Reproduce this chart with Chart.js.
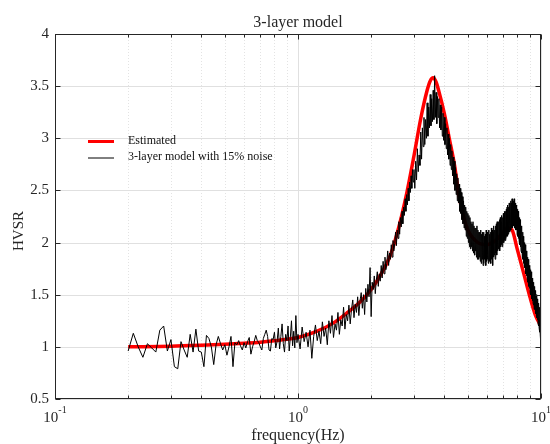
<!DOCTYPE html>
<html>
<head>
<meta charset="utf-8">
<title>3-layer model</title>
<script src="https://cdn.jsdelivr.net/npm/chart.js@4.4.1/dist/chart.umd.min.js"></script>
<style>
  html, body { margin: 0; padding: 0; background: #fff; }
  canvas { display: block; }
</style>
</head>
<body>
<canvas id="c" width="550" height="444"></canvas>
<script>
// HVSR of the 3-layer model with 15% noise, sampled in three frequency bands (Hz)
const noiseLowStart = 0.20, noiseLowStep = 0.01;
const noiseLow = [
  0.96,1.13,1.00,0.90,1.03,0.99,0.95,1.16,1.20,0.96,
  1.07,0.81,0.79,1.05,0.97,0.90,1.12,0.95,1.17,0.96,
  0.95,0.81,1.11,1.08,1.00,0.83,1.02,1.10,1.03,0.97,
  1.02,0.92,1.00,1.10,0.81,1.04,1.02,1.06,1.01,0.97,
  1.04,0.99,1.05,1.09,0.93,1.00,1.05,1.11,1.06,1.04,
  1.00,0.97,1.08,1.12,1.16,1.10,0.97,0.96,1.08,1.07,
  1.14,0.99,1.05,1.18,0.98,1.10,1.22,1.03,0.95,1.12,
  1.06,1.20,0.96,1.09,1.25,1.01,1.15,0.99,1.30,1.04
];
const noiseMidStart = 1.00, noiseMidStep = 0.02;
const noiseMid = [
  1.12,0.98,1.19,1.05,1.14,1.00,1.16,0.89,1.10,1.21,
  1.06,1.15,1.03,1.24,1.10,1.18,1.02,1.25,1.13,1.30,
  1.09,1.22,1.16,1.33,1.12,1.26,1.20,1.38,1.17,1.31,
  1.25,1.40,1.22,1.36,1.45,1.28,1.41,1.33,1.48,1.30,
  1.44,1.52,1.37,1.50,1.31,1.56,1.43,1.60,1.48,1.76,
  1.29,1.62,1.55,1.68,1.51,1.64,1.72,1.58,1.70,1.63,
  1.78,1.66,1.82,1.70,1.86,1.74,1.80,1.92,1.78,1.90,
  1.84,1.98,1.86,2.02,1.92,1.99,2.10,1.97,2.12,2.04,
  2.20,2.08,2.24,2.15,2.30,2.18,2.34,2.26,2.42,2.30,
  2.46,2.36,2.52,2.40,2.58,2.48,2.64,2.52,2.70,2.58
];
const noiseHighStart = 3.00, noiseHighStep = 0.025;
const noiseHigh = [
  2.70,2.52,2.78,2.60,  2.90,2.68,2.84,2.74,  3.06,2.80,3.10,2.92,  3.20,2.94,3.18,3.00,
  3.34,3.02,3.30,3.10,  3.42,3.12,3.38,3.16,  3.46,3.18,3.60,3.20,  3.44,3.14,3.40,3.20,
  3.38,3.10,3.32,3.08,  3.30,3.02,3.24,2.98,
  3.20,2.94,3.14,2.90,  3.10,2.84,3.04,2.80,  3.00,2.74,2.94,2.70,  2.88,2.64,2.82,2.56,
  2.78,2.50,2.72,2.46,  2.66,2.40,2.62,2.38,  2.56,2.30,2.52,2.28,  2.48,2.22,2.44,2.18,
  2.40,2.14,2.36,2.12,  2.34,2.06,2.30,2.04,
  2.28,2.00,2.26,1.96,  2.24,1.94,2.20,1.96,  2.18,1.92,2.20,1.90,  2.16,1.88,2.14,1.92,
  2.14,1.86,2.16,1.84,  2.12,1.84,2.10,1.86,  2.10,1.82,2.12,1.80,  2.08,1.84,2.10,1.78,
  2.10,1.80,2.06,1.84,  2.08,1.78,2.12,1.82,
  2.10,1.84,2.06,1.80,  2.12,1.82,2.08,1.86,  2.10,1.80,2.14,1.84,  2.12,1.78,2.10,1.86,
  2.16,1.88,2.12,1.84,  2.16,1.90,2.18,1.88,  2.20,1.92,2.16,1.94,  2.20,1.94,2.22,1.92,
  2.24,1.96,2.20,1.98,  2.26,1.96,2.24,2.00,
  2.28,2.00,2.26,2.02,  2.30,2.02,2.30,2.04,  2.32,2.06,2.34,2.06,  2.36,2.08,2.34,2.10,
  2.38,2.10,2.38,2.12,  2.40,2.12,2.38,2.14,  2.42,2.14,2.41,2.16,  2.40,2.16,2.42,2.14,
  2.40,2.14,2.38,2.12,  2.36,2.12,2.34,2.08,
  2.32,2.06,2.30,2.04,  2.28,2.02,2.24,1.98,  2.22,1.96,2.18,1.92,  2.16,1.90,2.12,1.86,
  2.10,1.84,2.06,1.80,  2.04,1.78,2.00,1.76,  1.98,1.74,1.94,1.70,  1.92,1.68,1.90,1.66,
  1.86,1.62,1.84,1.60,  1.82,1.58,1.78,1.56,
  1.76,1.52,1.74,1.50,  1.72,1.48,1.68,1.46,  1.66,1.44,1.64,1.42,  1.62,1.40,1.60,1.36,
  1.58,1.36,1.54,1.34,  1.54,1.32,1.50,1.30,  1.50,1.28,1.46,1.26,  1.46,1.22,1.42,1.20,
  1.42,1.18,1.38,1.14,  1.36,1.12,1.30,1.06,
  1.04
];

// Estimated (fitted) HVSR curve
const estFreq = [0.2,0.3,0.4,0.5,0.6,0.7,0.8,0.9,1.0,1.2,1.4,1.6,1.8,2.0,2.2,2.4,2.6,2.8,3.0,3.2,3.4,3.5,3.6,3.7,3.8,4.0,4.2,4.4,4.6,4.8,5.0,5.5,6.0,6.5,7.0,7.3,7.6,8.0,8.5,9.0,9.5,10];
const estimated = [1.00,1.005,1.015,1.025,1.035,1.045,1.058,1.072,1.09,1.15,1.23,1.33,1.43,1.55,1.70,1.88,2.15,2.47,2.83,3.19,3.46,3.55,3.58,3.54,3.45,3.24,2.99,2.75,2.45,2.25,2.12,2.00,1.98,2.02,2.10,2.14,2.12,1.93,1.70,1.48,1.30,1.20];

// Axis ticks
const yTicks = [0.5,1,1.5,2,2.5,3,3.5,4];
const xDecades = [0.1,1,10];
const xDecadeExp = ['-1','0','1'];
const xMinorMult = [2,3,4,5,6,7,8,9];

const titleText = '3-layer model';
const xTitle = 'frequency(Hz)';
const yTitle = 'HVSR';
const legendLabels = ['Estimated','3-layer model with 15% noise'];

const SERIF = "'Liberation Serif', 'Times New Roman', serif";
const INK = '#262626';

function segment(start, step, vals) {
  return vals.map((v, i) => ({ x: +(start + i * step).toFixed(4), y: v }));
}
const noisePts = [].concat(
  segment(noiseLowStart, noiseLowStep, noiseLow),
  segment(noiseMidStart, noiseMidStep, noiseMid),
  segment(noiseHighStart, noiseHighStep, noiseHigh)
);
const estPts = estFreq.map((f, i) => ({ x: f, y: estimated[i] }));

function seg(ctx, x1, y1, x2, y2) {
  ctx.beginPath(); ctx.moveTo(x1, y1); ctx.lineTo(x2, y2); ctx.stroke();
}

// Grid behind the curves, box with inward ticks and all annotation text on top
const framePlugin = {
  id: 'frame',
  beforeDatasetsDraw(chart) {
    const { ctx, chartArea: a, scales: { x, y } } = chart;
    ctx.save();
    ctx.lineWidth = 1;
    ctx.strokeStyle = '#e3e3e3';
    ctx.setLineDash([1, 2]);
    for (const d of xDecades.slice(0, 2)) {
      for (const m of xMinorMult) {
        const px = Math.round(x.getPixelForValue(d * m)) + 0.5;
        seg(ctx, px, a.top, px, a.bottom);
      }
    }
    ctx.setLineDash([]);
    ctx.strokeStyle = '#e0e0e0';
    for (const t of yTicks) {
      const py = Math.round(y.getPixelForValue(t)) + 0.5;
      seg(ctx, a.left, py, a.right, py);
    }
    for (const d of xDecades) {
      const px = Math.round(x.getPixelForValue(d)) + 0.5;
      seg(ctx, px, a.top, px, a.bottom);
    }
    ctx.restore();
  },
  afterDatasetsDraw(chart) {
    const { ctx, chartArea: a, scales: { x, y } } = chart;
    ctx.save();
    ctx.strokeStyle = INK;
    ctx.lineWidth = 1;
    const L = Math.round(a.left) + 0.5, R = Math.round(a.right) - 0.5;
    const T = Math.round(a.top) + 0.5, B = Math.round(a.bottom) - 0.5;
    ctx.strokeRect(L, T, R - L, B - T);
    for (const t of yTicks) {
      const py = Math.round(y.getPixelForValue(t)) + 0.5;
      seg(ctx, L, py, L + 5, py);
      seg(ctx, R, py, R - 5, py);
    }
    for (const d of xDecades) {
      const px = Math.round(x.getPixelForValue(d)) + 0.5;
      seg(ctx, px, B, px, B - 5);
      seg(ctx, px, T, px, T + 5);
      if (d < 10) {
        for (const m of xMinorMult) {
          const qx = Math.round(x.getPixelForValue(d * m)) + 0.5;
          seg(ctx, qx, B, qx, B - 3);
          seg(ctx, qx, T, qx, T + 3);
        }
      }
    }
    ctx.restore();
  },
  afterDraw(chart) {
    const { ctx, chartArea: a, scales: { x } } = chart;
    ctx.save();
    ctx.fillStyle = INK;
    ctx.textBaseline = 'alphabetic';

    // decade labels 10^n
    xDecades.forEach((d, i) => {
      const px = x.getPixelForValue(d);
      ctx.font = '15px ' + SERIF;
      const wb = ctx.measureText('10').width;
      ctx.font = '10px ' + SERIF;
      const we = ctx.measureText(xDecadeExp[i]).width;
      const x0 = px - (wb + we) / 2;
      ctx.font = '15px ' + SERIF;
      ctx.textAlign = 'left';
      ctx.fillText('10', x0, a.bottom + 23);
      ctx.font = '10px ' + SERIF;
      ctx.fillText(xDecadeExp[i], x0 + wb, a.bottom + 14);
    });

    const cx = (a.left + a.right) / 2;
    ctx.textAlign = 'center';
    ctx.font = '16px ' + SERIF;
    ctx.fillText(titleText, cx, a.top - 7);
    ctx.fillText(xTitle, cx, a.bottom + 41);

    ctx.save();
    ctx.translate(23, 231);
    ctx.rotate(-Math.PI / 2);
    ctx.font = '15px ' + SERIF;
    ctx.fillText(yTitle, 0, 0);
    ctx.restore();

    // legend
    const ds = chart.data.datasets;
    const lx = a.left + 33, ly = a.top + 107;
    ctx.font = '12px ' + SERIF;
    ctx.textAlign = 'left';
    legendLabels.forEach((lab, i) => {
      const d = ds[i];
      const yy = ly + i * 16.5;
      ctx.strokeStyle = d.borderColor;
      ctx.lineWidth = i === 0 ? 3 : 1;
      seg(ctx, lx, yy + 0.5, lx + 26, yy + 0.5);
      ctx.fillStyle = '#111';
      ctx.fillText(lab, lx + 40, yy + 2.5);
    });
    ctx.restore();
  }
};

new Chart(document.getElementById('c'), {
  type: 'scatter',
  data: {
    datasets: [
      {
        label: legendLabels[0],
        data: estPts,
        showLine: true,
        borderColor: '#ff0000',
        borderWidth: 3.5,
        pointRadius: 0,
        cubicInterpolationMode: 'monotone',
        order: 2
      },
      {
        label: legendLabels[1],
        data: noisePts,
        showLine: true,
        borderColor: '#000000',
        borderWidth: 1,
        pointRadius: 0,
        order: 1
      }
    ]
  },
  options: {
    responsive: false,
    animation: false,
    events: [],
    layout: { padding: { top: 34, right: 9, left: 0, bottom: 0 } },
    plugins: { legend: { display: false }, title: { display: false }, tooltip: { enabled: false } },
    scales: {
      x: {
        type: 'logarithmic',
        min: 0.1,
        max: 10,
        grid: { display: false, drawTicks: false },
        border: { display: false },
        ticks: { display: false },
        afterFit: s => { s.height = 45; }
      },
      y: {
        type: 'linear',
        min: 0.5,
        max: 4,
        grid: { display: false, drawTicks: false },
        border: { display: false },
        afterBuildTicks: s => { s.ticks = yTicks.map(v => ({ value: v })); },
        ticks: {
          padding: 6,
          color: INK,
          font: { family: SERIF, size: 15 },
          callback: v => String(v)
        },
        afterFit: s => { s.width = 55; }
      }
    }
  },
  plugins: [framePlugin]
});
</script>
</body>
</html>
